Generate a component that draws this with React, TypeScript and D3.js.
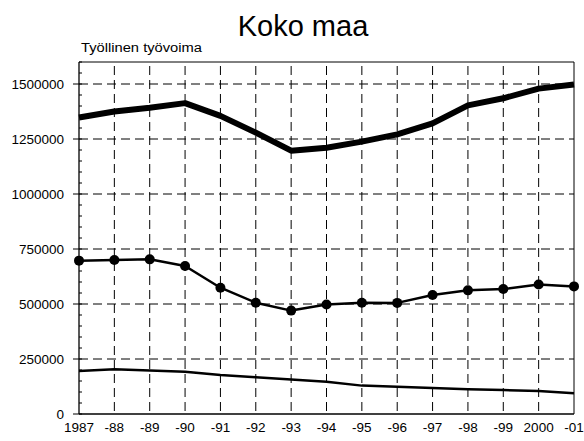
import React from "react";
import * as d3 from "d3";

const years = ["1987", "-88", "-89", "-90", "-91", "-92", "-93", "-94", "-95", "-96", "-97", "-98", "-99", "2000", "-01"];
const totalSeries = [1348000, 1375000, 1392000, 1413000, 1355000, 1279000, 1197000, 1210000, 1238000, 1271000, 1321000, 1403000, 1435000, 1479000, 1498000];
const dotSeries = [697000, 700000, 703000, 673000, 574000, 506000, 470000, 498000, 506000, 505000, 541000, 562000, 568000, 589000, 580000];
const lowSeries = [195000, 203000, 198000, 192000, 177000, 167000, 157000, 147000, 129000, 124000, 118000, 112000, 109000, 105000, 94000];
const yTicks = [0, 250000, 500000, 750000, 1000000, 1250000, 1500000];
const title = "Koko maa";
const subtitle = "Työllinen työvoima";

const W = 584, H = 441;
const left = 79, right = 574, top = 62, bottom = 414;

export default function App() {
  const x = d3.scalePoint<string>().domain(years).range([left, right]);
  const y = d3.scaleLinear().domain([0, 1600000]).range([bottom, top]);
  const line = d3.line<number>().x((_, i) => x(years[i]) as number).y((d) => y(d));
  const minor = d3.range(0, 1600001, 50000);
  const font = "'Liberation Sans', Arial, sans-serif";
  const dash = "9,5";
  return (
    <div style={{ position: "absolute", left: 0, top: 0 }}>
      <svg width={W} height={H} style={{ display: "block", background: "#fff" }} fontFamily={font}>
        <rect x={0} y={0} width={W} height={H} fill="#fff" />
        <text x={303} y={36} textAnchor="middle" fontSize={29} fill="#000">{title}</text>
        <text x={81} y={52} fontSize={12.5} fill="#000" textLength={121} lengthAdjust="spacingAndGlyphs">{subtitle}</text>
        {/* horizontal dashed grid */}
        {yTicks.filter((t) => t > 0).map((t) => (
          <line key={"h" + t} x1={left} x2={right} y1={y(t)} y2={y(t)} stroke="#000" strokeWidth={1} strokeDasharray={dash} />
        ))}
        {/* vertical dashed grid */}
        {years.slice(1, years.length - 1).map((yr) => (
          <line key={"v" + yr} x1={x(yr)} x2={x(yr)} y1={top + 4} y2={bottom} stroke="#000" strokeWidth={1} strokeDasharray={dash} />
        ))}
        {/* frame */}
        <line x1={left} x2={right} y1={top} y2={top} stroke="#000" strokeWidth={1} />
        <line x1={right} x2={right} y1={top} y2={bottom} stroke="#000" strokeWidth={1} />
        <line x1={left} x2={left} y1={top} y2={bottom} stroke="#000" strokeWidth={1.3} />
        <line x1={left} x2={right} y1={bottom} y2={bottom} stroke="#000" strokeWidth={1.3} />
        {/* minor ticks */}
        {minor.map((t) => (
          <line key={"m" + t} x1={left} x2={left + 3} y1={y(t)} y2={y(t)} stroke="#000" strokeWidth={1} />
        ))}
        {/* major ticks and labels */}
        {yTicks.map((t) => (
          <g key={"y" + t}>
            <line x1={left - 6} x2={left} y1={y(t)} y2={y(t)} stroke="#000" strokeWidth={1} />
            <text x={64} y={y(t) + 5} textAnchor="end" fontSize={13.5} fill="#000">{t}</text>
          </g>
        ))}
        {years.map((yr) => (
          <text key={"x" + yr} x={x(yr)} y={432} textAnchor="middle" fontSize={13.5} fill="#000">{yr}</text>
        ))}
        {/* series */}
        <path d={line(totalSeries) || ""} fill="none" stroke="#000" strokeWidth={6} strokeLinejoin="round" />
        <path d={line(dotSeries) || ""} fill="none" stroke="#000" strokeWidth={2.5} strokeLinejoin="round" />
        {dotSeries.map((v, i) => (
          <circle key={"c" + i} cx={x(years[i])} cy={y(v)} r={5} fill="#000" />
        ))}
        <path d={line(lowSeries) || ""} fill="none" stroke="#000" strokeWidth={2.5} strokeLinejoin="round" />
      </svg>
    </div>
  );
}
